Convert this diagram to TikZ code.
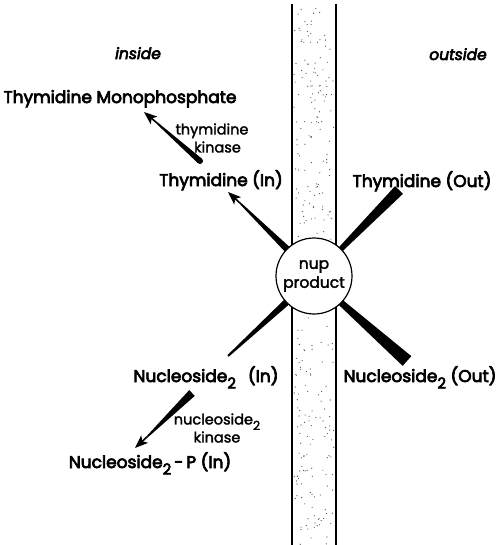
\documentclass[tikz,border=0pt]{standalone}
\usepackage{fontspec}
\setmainfont{Poppins}
\newfontfamily\lblfont[FakeBold=4]{Poppins}
\newfontfamily\smfont[FakeBold=2]{Poppins}
\newfontfamily\sidefont[FakeBold=4]{Poppins Italic}
\usetikzlibrary{calc,arrows.meta}
\newcommand{\subtw}[1]{\raisebox{-0.38em}{\fontsize{#1}{#1}\selectfont 2}}
\newcommand{\taper}[4]{\fill ($(#1)!#2!90:(#3)$) -- ($(#3)!#4!-90:(#1)$) -- ($(#3)!#4!90:(#1)$) -- ($(#1)!#2!-90:(#3)$) -- cycle;}
\begin{document}
\begin{tikzpicture}[x=1pt,y=-1pt,
  lbl/.style={font=\lblfont\fontsize{17}{17}\selectfont, inner sep=0pt, anchor=base},
  small/.style={font=\smfont\fontsize{14.5}{18}\selectfont, inner sep=0pt, align=center},
  side/.style={font=\sidefont\fontsize{15.5}{15.5}\selectfont, inner sep=0pt, anchor=base},
  arr/.style={line width=1.6pt, -{Stealth[length=13pt,width=10pt,inset=3pt]}},
  wall/.style={line width=1.3pt}]
\useasboundingbox (0,0) rectangle (500,545);
% membrane stipple
\pgfmathsetseed{7}
\foreach \i in {1,...,300}{
  \pgfmathsetmacro\xx{294+rnd*40}
  \pgfmathsetmacro\yy{4+rnd*541}
  \fill[black!70] (\xx,\yy) circle (0.6);
}
\draw[wall] (292,4) -- (292,545);
\draw[wall] (336,4) -- (336,545);
% wedges and arrows
\coordinate (toA) at (337,253); \coordinate (toB) at (399,190);
\taper{toA}{2.5pt}{toB}{5.5pt}
\coordinate (noA) at (338,300); \coordinate (noB) at (407,361);
\taper{noA}{3pt}{noB}{6.5pt}
\coordinate (tiA) at (291,253); \coordinate (tiB) at (241,204); \coordinate (tiT) at (228,192);
\taper{tiA}{3.5pt}{tiB}{0.9pt}
\draw[arr] (tiB) -- (tiT);
\coordinate (niA) at (290,299); \coordinate (niB) at (228,356);
\taper{niA}{3.5pt}{niB}{1pt}
\coordinate (tkA) at (200,161); \coordinate (tkB) at (157,123); \coordinate (tkT) at (144,112);
\taper{tkA}{3pt}{tkB}{0.9pt}
\fill (tkA) circle (3);
\draw[arr] (tkB) -- (tkT);
\coordinate (nkA) at (192,393); \coordinate (nkB) at (148,436); \coordinate (nkT) at (135,448);
\taper{nkA}{4pt}{nkB}{0.9pt}
\draw[arr] (nkB) -- (nkT);
% carrier
\node[circle, draw, fill=white, line width=1.2pt, minimum size=76pt, inner sep=0pt, align=center, font=\smfont\fontsize{15.5}{19}\selectfont] (nup) at (314,276) {nup\\product};
% labels
\node[side] (ins) at (138,59) {inside};
\node[side] (outs) at (458,60) {outside};
\node[lbl] (tmp) at (120,103) {Thymidine Monophosphate};
\node[small] (tk) at (212,138) {thymidine\\\hspace*{11pt}kinase};
\node[lbl] (tin) at (221,186) {Thymidine (In)};
\node[lbl] (tout) at (422,187) {Thymidine (Out)};
\node[lbl] (nin) at (206,382) {Nucleoside\subtw{15}\hspace{12pt}(In)};
\node[lbl] (nout) at (420,382) {Nucleoside\subtw{15}\ (Out)};
\node[small] (nk) at (217,428) {nucleoside\subtw{12.5}\\kinase};
\node[lbl] (np) at (150,468) {Nucleoside\subtw{15}\,-\,P (In)};
\end{tikzpicture}
\end{document}
